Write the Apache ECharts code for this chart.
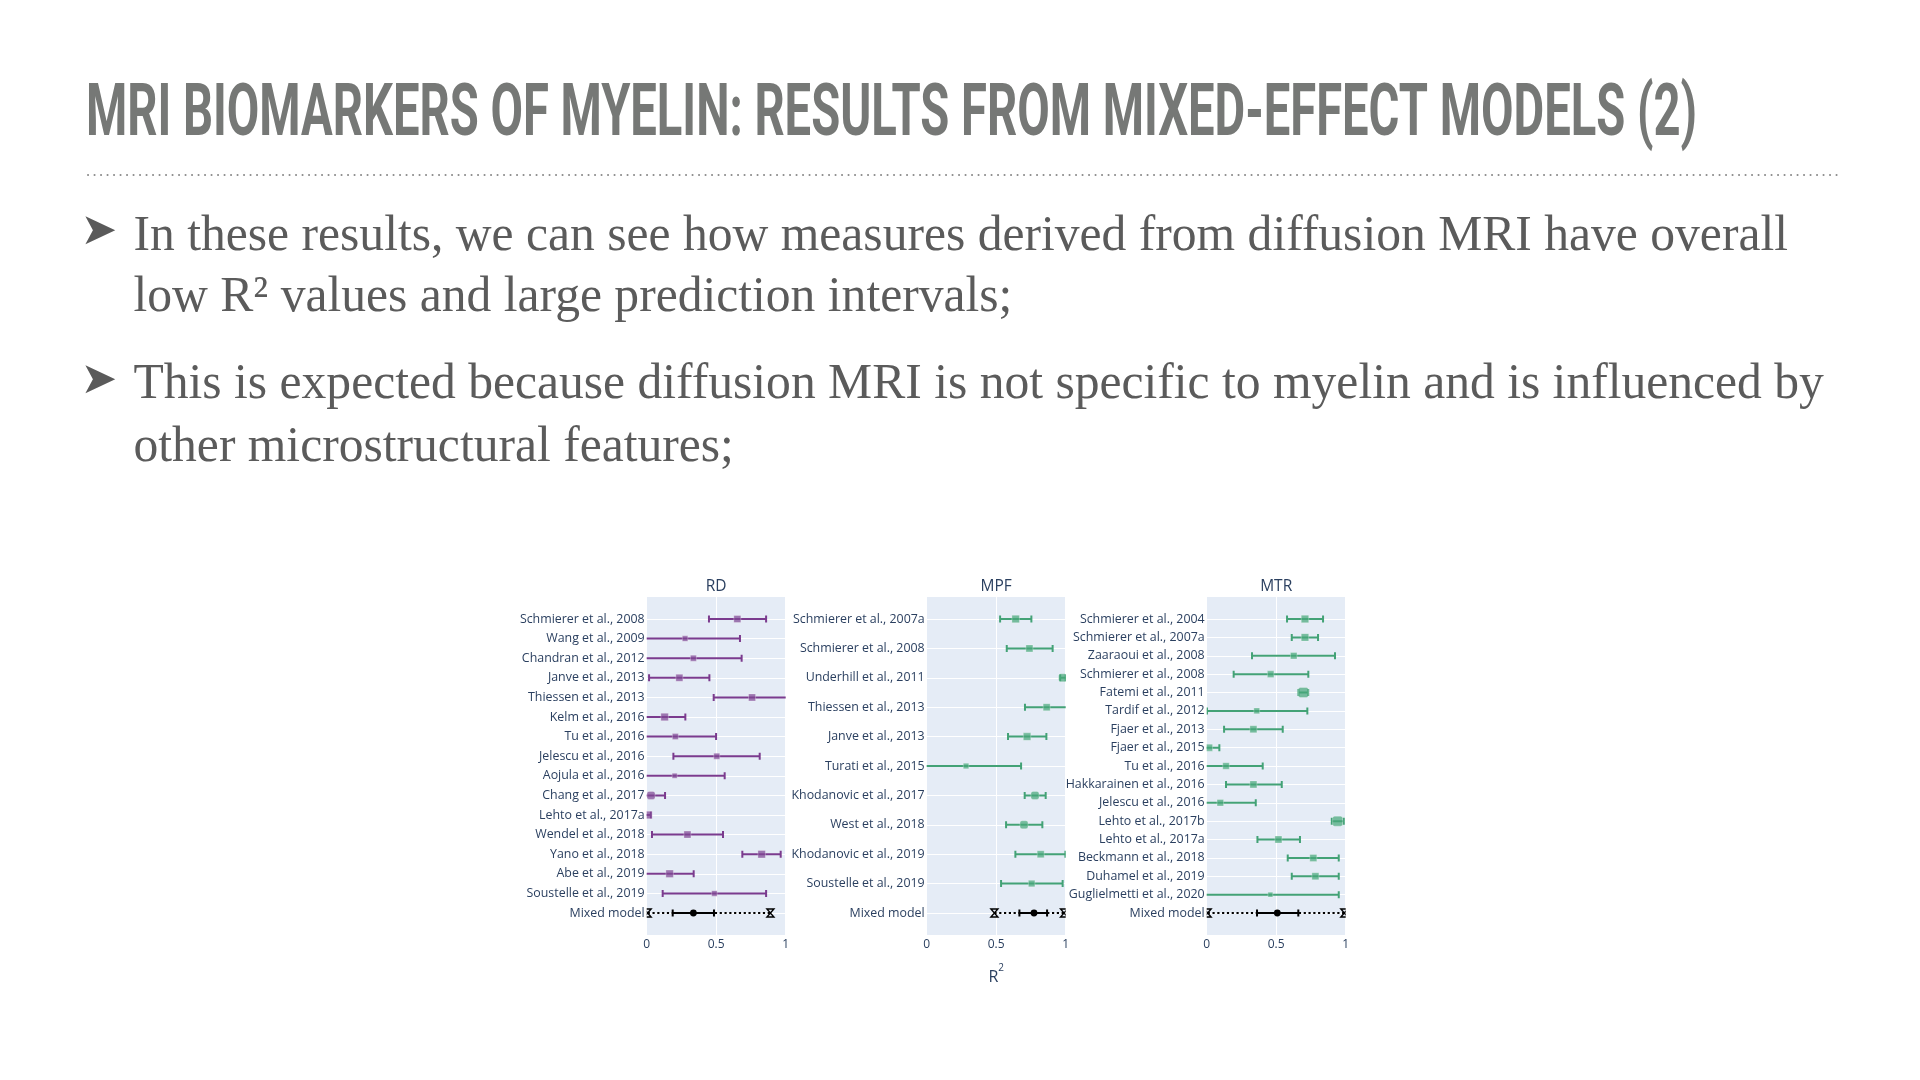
<!DOCTYPE html>
<html><head><meta charset="utf-8">
<script src="https://cdn.jsdelivr.net/npm/echarts@6/dist/echarts.min.js"></script>
<style>html,body{margin:0;padding:0;background:#fff}#c{width:1920px;height:1080px}</style>
</head><body><div id="c"></div>
<script>
// ---------------- text ----------------
const slideTitle = 'MRI BIOMARKERS OF MYELIN: RESULTS FROM MIXED-EFFECT MODELS (2)';
const bullet1 = ['In these results, we can see how measures derived from diffusion MRI have overall',
                 'low R\u00B2 values and large prediction intervals;'];
const bullet2 = ['This is expected because diffusion MRI is not specific to myelin and is influenced by',
                 'other microstructural features;'];
const panelTitles = ['RD', 'MPF', 'MTR'];
const mixedLabel = 'Mixed model';

// ---------------- RD ----------------
const rdStudies = ['Schmierer et al., 2008','Wang et al., 2009','Chandran et al., 2012','Janve et al., 2013',
  'Thiessen et al., 2013','Kelm et al., 2016','Tu et al., 2016','Jelescu et al., 2016','Aojula et al., 2016',
  'Chang et al., 2017','Lehto et al., 2017a','Wendel et al., 2018','Yano et al., 2018','Abe et al., 2019',
  'Soustelle et al., 2019'];
const rdLow    = [0.448,-0.08,-0.06,0.017,0.482,-0.03,-0.02,0.192,-0.05,-0.04,-0.02,0.038,0.688,-0.05,0.115];
const rdMean   = [0.652,0.276,0.336,0.235,0.758,0.129,0.206,0.504,0.201,0.031,0.012,0.293,0.827,0.165,0.487];
const rdHigh   = [0.859,0.671,0.683,0.451,1.05,0.278,0.499,0.813,0.561,0.132,0.03,0.549,0.964,0.338,0.859];
const rdWeight = [0.5,0.25,0.33,0.5,0.5,0.58,0.33,0.33,0.17,0.67,0.6,0.5,0.58,0.58,0.25];
const rdMixed  = [0.007,0.187,0.336,0.484,0.89]; // PI low, CI low, mean, CI high, PI high

// ---------------- MPF ----------------
const mpfStudies = ['Schmierer et al., 2007a','Schmierer et al., 2008','Underhill et al., 2011',
  'Thiessen et al., 2013','Janve et al., 2013','Turati et al., 2015','Khodanovic et al., 2017',
  'West et al., 2018','Khodanovic et al., 2019','Soustelle et al., 2019'];
const mpfLow    = [0.528,0.576,0.96,0.707,0.585,-0.05,0.705,0.571,0.638,0.535];
const mpfMean   = [0.640,0.739,0.978,0.863,0.722,0.283,0.779,0.700,0.820,0.755];
const mpfHigh   = [0.753,0.906,1.0,1.03,0.861,0.679,0.856,0.832,0.998,0.978];
const mpfWeight = [0.58,0.5,0.67,0.5,0.58,0.25,0.67,0.67,0.5,0.42];
const mpfMixed  = [0.487,0.667,0.772,0.866,0.988];

// ---------------- MTR ----------------
const mtrStudies = ['Schmierer et al., 2004','Schmierer et al., 2007a','Zaaraoui et al., 2008',
  'Schmierer et al., 2008','Fatemi et al., 2011','Tardif et al., 2012','Fjaer et al., 2013',
  'Fjaer et al., 2015','Tu et al., 2016','Hakkarainen et al., 2016','Jelescu et al., 2016',
  'Lehto et al., 2017b','Lehto et al., 2017a','Beckmann et al., 2018','Duhamel et al., 2019',
  'Guglielmetti et al., 2020'];
const mtrLow    = [0.578,0.612,0.326,0.194,0.66,0.002,0.125,-0.03,-0.04,0.139,-0.03,0.90,0.365,0.583,0.612,-0.02];
const mtrMean   = [0.707,0.707,0.626,0.460,0.695,0.360,0.336,0.017,0.139,0.336,0.098,0.942,0.516,0.767,0.782,0.458];
const mtrHigh   = [0.837,0.801,0.923,0.731,0.73,0.724,0.547,0.091,0.403,0.540,0.353,0.986,0.671,0.950,0.950,0.950];
const mtrWeight = [0.58,0.58,0.42,0.42,1.0,0.3,0.5,0.5,0.42,0.5,0.42,1.0,0.5,0.5,0.5,0.15];
const mtrMixed  = [0.007,0.362,0.508,0.659,0.99];

const xTickInterval = 0.5;

// ---------------- styles ----------------
const purpleLine = '#7b3b8e', purpleFill = 'rgba(128,72,148,0.72)';
const greenLine = '#43a276', greenFill = 'rgba(72,168,122,0.72)';
const tickColor = '#2a3f5f';
const plotFont = '"Open Sans", Verdana, Arial, sans-serif';

const panels = [
  {title: panelTitles[0], studies: rdStudies, low: rdLow, mean: rdMean, high: rdHigh, w: rdWeight, mixed: rdMixed, line: purpleLine, fill: purpleFill},
  {title: panelTitles[1], studies: mpfStudies, low: mpfLow, mean: mpfMean, high: mpfHigh, w: mpfWeight, mixed: mpfMixed, line: greenLine, fill: greenFill},
  {title: panelTitles[2], studies: mtrStudies, low: mtrLow, mean: mtrMean, high: mtrHigh, w: mtrWeight, mixed: mtrMixed, line: greenLine, fill: greenFill}
];
const panelLeft = [646.7, 926.7, 1206.7];
const panelW = 139;
const bgTop = 597, bgH = 338;
const rowTop = 619, rowH = 294;

// ---------------- measurement helpers ----------------
const mctx = document.createElement('canvas').getContext('2d');
function textW(font, s) { mctx.font = font; return mctx.measureText(s).width; }
const titleFont = 'bold 72px Roboto';
const titleScale = 1611 / textW(titleFont, slideTitle);
const bodyFamily = '"Liberation Serif", "DejaVu Serif", serif';
const bodySize = Math.round(1656 / textW('100px ' + bodyFamily, bullet1[0]) * 100 * 10) / 10;

function sizeOf(w) { return 4 + 6 * w; }

function clipFor(cs) {
  return {type: 'rect', shape: {x: cs.x, y: cs.y - 40, width: cs.width, height: cs.height + 80}};
}

function studyRenderer(lineColor, fillColor) {
  return function (params, api) {
    const cs = params.coordSys;
    const row = api.value(3);
    const pL = api.coord([api.value(0), row]);
    const pM = api.coord([api.value(1), row]);
    const pH = api.coord([api.value(2), row]);
    const s = sizeOf(api.value(4));
    const y = pM[1], cap = 3.5;
    const st = {stroke: lineColor, lineWidth: 2, fill: null};
    return {
      type: 'group',
      clipPath: clipFor(cs),
      children: [
        {type: 'line', shape: {x1: pL[0], y1: y, x2: pH[0], y2: y}, style: st},
        {type: 'line', shape: {x1: pL[0], y1: y - cap, x2: pL[0], y2: y + cap}, style: st},
        {type: 'line', shape: {x1: pH[0], y1: y - cap, x2: pH[0], y2: y + cap}, style: st},
        {type: 'rect', shape: {x: pM[0] - s / 2, y: y - s / 2, width: s, height: s, r: s > 8 ? 2 : 0},
          style: {fill: fillColor, stroke: 'rgba(255,255,255,0.35)', lineWidth: 0.8}}
      ]
    };
  };
}

function hourglass(x, y) {
  const a = 3.5, b = 4;
  return {type: 'polygon', shape: {points: [[x - a, y - b], [x + a, y - b], [x - a, y + b], [x + a, y + b]]},
    style: {stroke: '#000', lineWidth: 1.4, fill: null}};
}

function mixedRenderer(params, api) {
  const cs = params.coordSys;
  const row = api.value(5);
  const p = [0, 1, 2, 3, 4].map(i => api.coord([api.value(i), row]));
  const y = p[2][1], cap = 3.5;
  const solid = {stroke: '#000', lineWidth: 2, fill: null};
  return {
    type: 'group',
    clipPath: clipFor(cs),
    children: [
      {type: 'line', shape: {x1: p[0][0], y1: y, x2: p[4][0], y2: y},
        style: {stroke: '#000', lineWidth: 2, lineDash: [2.2, 2.6], fill: null}},
      hourglass(p[0][0], y), hourglass(p[4][0], y),
      {type: 'line', shape: {x1: p[1][0], y1: y, x2: p[3][0], y2: y}, style: solid},
      {type: 'line', shape: {x1: p[1][0], y1: y - cap, x2: p[1][0], y2: y + cap}, style: solid},
      {type: 'line', shape: {x1: p[3][0], y1: y - cap, x2: p[3][0], y2: y + cap}, style: solid},
      {type: 'circle', shape: {cx: p[2][0], cy: y, r: 3.4}, style: {fill: '#000'}}
    ]
  };
}

// ---------------- build option ----------------
const grid = [], xAxis = [], yAxis = [], series = [], titles = [];
panels.forEach((pn, i) => {
  const bg = 2 * i, dg = 2 * i + 1;
  grid.push({left: panelLeft[i], width: panelW, top: bgTop, height: bgH, show: true,
    backgroundColor: '#E5ECF6', borderWidth: 0, z: 0});
  grid.push({left: panelLeft[i], width: panelW, top: rowTop, height: rowH, show: false, z: 1});
  xAxis.push({gridIndex: bg, type: 'value', min: 0, max: 1, interval: xTickInterval,
    axisLine: {show: false}, axisTick: {show: false},
    splitLine: {show: true, lineStyle: {color: '#ffffff', width: 1}},
    axisLabel: {color: tickColor, fontSize: 12, fontFamily: plotFont, margin: 4}, z: 0});
  yAxis.push({gridIndex: bg, type: 'value', show: false, min: 0, max: 1, splitLine: {show: false}});
  xAxis.push({gridIndex: dg, type: 'value', min: 0, max: 1, show: false, splitLine: {show: false}});
  const labels = pn.studies.concat([mixedLabel]);
  yAxis.push({gridIndex: dg, type: 'category', data: labels, inverse: true, boundaryGap: false,
    axisLine: {show: false}, axisTick: {show: false},
    splitLine: {show: true, interval: 0, lineStyle: {color: '#ffffff', width: 1}},
    axisLabel: {interval: 0, color: tickColor, fontSize: 12.4, fontFamily: plotFont, margin: 2}, z: 1});
  series.push({
    type: 'custom', xAxisIndex: dg, yAxisIndex: dg, clip: false, z: 3,
    encode: {x: [0, 1, 2], y: 3},
    data: pn.studies.map((s, k) => [pn.low[k], pn.mean[k], pn.high[k], k, pn.w[k]]),
    renderItem: studyRenderer(pn.line, pn.fill)
  });
  series.push({
    type: 'custom', xAxisIndex: dg, yAxisIndex: dg, clip: false, z: 4,
    encode: {x: [0, 1, 2, 3, 4], y: 5},
    data: [pn.mixed.concat([pn.studies.length])],
    renderItem: mixedRenderer
  });
  titles.push({text: pn.title, left: panelLeft[i] + panelW / 2, top: 579, textAlign: 'center', padding: 0,
    textStyle: {color: tickColor, fontSize: 15.5, fontWeight: 'normal', fontFamily: plotFont}});
});
titles.push({text: '{a|R}{b|2}', left: panelLeft[1] + panelW / 2, top: 963, textAlign: 'center', padding: 0,
  textStyle: {fontWeight: 'normal', rich: {
    a: {color: tickColor, fontSize: 16, fontWeight: 'normal', fontFamily: plotFont, verticalAlign: 'bottom', lineHeight: 22},
    b: {color: tickColor, fontSize: 10, fontWeight: 'normal', fontFamily: plotFont, verticalAlign: 'top', lineHeight: 14}
  }}});

const textGray = '#5b5b5b';
const graphic = [
  {type: 'text', x: 86, y: 117, scaleX: titleScale, scaleY: 1,
    style: {text: slideTitle, x: 0, y: 0, font: titleFont, fill: '#767876',
      textAlign: 'left', textVerticalAlign: 'middle'}},
  {type: 'line', shape: {x1: 88, y1: 175, x2: 1837, y2: 175},
    style: {stroke: '#8c8c8c', lineWidth: 2, lineDash: [0.1, 6.4], lineCap: 'round'}},
  {type: 'text', x: 99, y: 233, style: {text: '\u27A4', font: '44px "DejaVu Sans"', fill: '#5a5a5a',
    textAlign: 'center', textVerticalAlign: 'middle'}},
  {type: 'text', x: 99, y: 382, style: {text: '\u27A4', font: '44px "DejaVu Sans"', fill: '#5a5a5a',
    textAlign: 'center', textVerticalAlign: 'middle'}}
];
const lineYs = [236.5, 298, 384.5, 447.5];
[bullet1[0], bullet1[1], bullet2[0], bullet2[1]].forEach((t, k) => {
  graphic.push({type: 'text', x: 133.5, y: lineYs[k],
    style: {text: t, font: bodySize + 'px ' + bodyFamily, fill: textGray,
      textAlign: 'left', textVerticalAlign: 'middle'}});
});

const chart = echarts.init(document.getElementById('c'), null, {renderer: 'canvas'});
chart.setOption({
  backgroundColor: '#ffffff',
  animation: false,
  title: titles,
  grid, xAxis, yAxis, series, graphic
});
</script></body></html>
